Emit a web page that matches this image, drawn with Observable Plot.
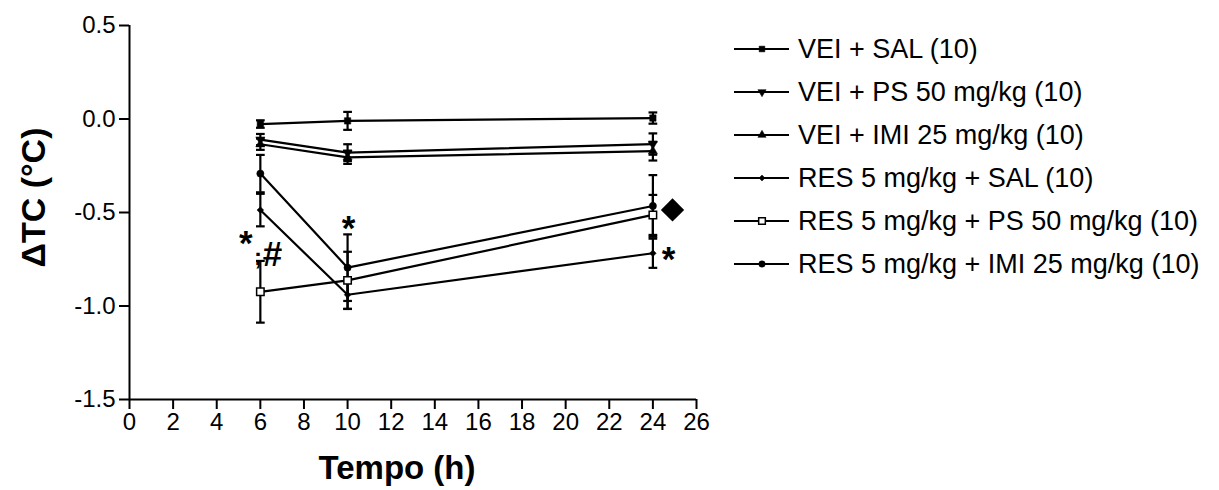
<!DOCTYPE html>
<html>
<head>
<meta charset="utf-8">
<script src="https://cdn.jsdelivr.net/npm/d3@7"></script>
<script src="https://cdn.jsdelivr.net/npm/@observablehq/plot@0.6"></script>
<style>
  html, body { margin: 0; padding: 0; background: #fff; }
  #wrap { position: relative; width: 1219px; height: 490px; font-family: "Liberation Sans", Arial, sans-serif; }
  #chart { position: absolute; left: 0; top: 0; }
  .leg { position: absolute; left: 734px; height: 30px; display: flex; align-items: center; white-space: nowrap; }
  .leg span { font-size: 27px; color: #000; margin-left: 8px; }
</style>
</head>
<body>
<div id="wrap"><div id="chart"></div><div id="legend"></div></div>
<script>
// ---- data ----
const times = [6, 10, 24];
const seriesNames = [
  "VEI + SAL (10)",
  "VEI + PS 50 mg/kg (10)",
  "VEI + IMI 25 mg/kg (10)",
  "RES 5 mg/kg + SAL (10)",
  "RES 5 mg/kg + PS 50 mg/kg (10)",
  "RES 5 mg/kg + IMI 25 mg/kg (10)"
];
const veiSal    = [-0.027, -0.010, 0.005];
const veiSalErr = [0.020, 0.048, 0.030];
const veiPs     = [-0.110, -0.180, -0.134];
const veiPsErr  = [0.030, 0.045, 0.057];
const veiImi    = [-0.135, -0.205, -0.172];
const veiImiErr = [0.030, 0.035, 0.050];
const resSal    = [-0.487, -0.940, -0.718];
const resSalErr = [0.087, 0.075, 0.078];
const resPs     = [-0.924, -0.863, -0.513];
const resPsErr  = [0.165, 0.153, 0.107];
const resImi    = [-0.292, -0.795, -0.465];
const resImiErr = [0.100, 0.178, 0.165];

const xTicks = [0, 2, 4, 6, 8, 10, 12, 14, 16, 18, 20, 22, 24, 26];
const yTicks = [-1.5, -1.0, -0.5, 0.0, 0.5];
const xLabel = "Tempo (h)";
const yLabel = "ΔTC (°C)";

const annoText = ["*", ";", "#", "*", "*"];
const annoX    = [5.33, 5.89, 6.56, 10.05, 24.72];
const annoY    = [-0.617, -0.690, -0.679, -0.540, -0.706];
const markX = [24.9];
const markY = [-0.486];

// ---- build ----
const sqrt3 = Math.sqrt(3);
const triDown = {
  draw(c, size) {
    const y = -Math.sqrt(size / (sqrt3 * 3));
    c.moveTo(0, -y * 2);
    c.lineTo(-sqrt3 * y, y);
    c.lineTo(sqrt3 * y, y);
    c.closePath();
  }
};
const means = [veiSal, veiPs, veiImi, resSal, resPs, resImi];
const errs = [veiSalErr, veiPsErr, veiImiErr, resSalErr, resPsErr, resImiErr];
const styles = [
  {symbol: "square", fill: "black", r: 3.6},
  {symbol: triDown, fill: "black", r: 3.4},
  {symbol: "triangle", fill: "black", r: 3.4},
  {symbol: "diamond2", fill: "black", r: 3.0},
  {symbol: "square", fill: "white", r: 4.2},
  {symbol: "circle", fill: "black", r: 3.6}
];

const rows = [];
seriesNames.forEach((s, i) => times.forEach((t, j) => rows.push({s, i, x: t, y: means[i][j], e: errs[i][j]})));

const capW = 0.2;
const marks = [
  Plot.ruleY([-1.5], {stroke: "black", strokeWidth: 2}),
  Plot.ruleX([0], {stroke: "black", strokeWidth: 2}),
  Plot.axisX({ticks: xTicks, tickSize: 10, tickPadding: 3, fontSize: 24, strokeWidth: 2, label: null, tickFormat: d => String(d)}),
  Plot.axisY({ticks: yTicks, tickSize: 10, tickPadding: 4, fontSize: 24, strokeWidth: 2, label: null, tickFormat: d => d.toFixed(1)}),
  Plot.ruleX(rows, {x: "x", y1: d => d.y - d.e, y2: d => d.y + d.e, stroke: "black", strokeWidth: 2.2}),
  Plot.link(rows, {x1: d => d.x - capW, x2: d => d.x + capW, y1: d => d.y + d.e, y2: d => d.y + d.e, stroke: "black", strokeWidth: 2.2}),
  Plot.link(rows, {x1: d => d.x - capW, x2: d => d.x + capW, y1: d => d.y - d.e, y2: d => d.y - d.e, stroke: "black", strokeWidth: 2.2}),
  Plot.line(rows, {x: "x", y: "y", z: "s", stroke: "black", strokeWidth: 2.2})
];
styles.forEach((st, i) => {
  marks.push(Plot.dot(rows.filter(d => d.i === i), {x: "x", y: "y", symbol: () => st.symbol, r: st.r, fill: st.fill, stroke: "black", strokeWidth: st.fill === "white" ? 1.5 : 0.5}));
});
marks.push(
  Plot.text(annoText.map((t, k) => ({t, x: annoX[k], y: annoY[k]})), {x: "x", y: "y", text: "t", fontSize: d => d.t === ";" ? 24 : 35, fontWeight: "bold", fill: "black", dy: 9}),
  Plot.dot(markX.map((x, k) => ({x, y: markY[k]})), {x: "x", y: "y", symbol: "diamond2", r: 10.5, fill: "black"}),
  Plot.text([yLabel], {frameAnchor: "left", textAnchor: "middle", lineAnchor: "middle", dx: -95, dy: -15, rotate: -90, fontSize: 34, fontWeight: "bold", fill: "black"}),
  Plot.text([xLabel], {frameAnchor: "bottom", textAnchor: "middle", lineAnchor: "middle", dx: -16, dy: 69, fontSize: 33, fontWeight: "bold", fill: "black"})
);

const chart = Plot.plot({
  width: 730,
  height: 490,
  marginLeft: 129,
  marginRight: 34,
  marginTop: 25,
  marginBottom: 91,
  style: {fontFamily: "'Liberation Sans', Arial, sans-serif", color: "black", background: "white", overflow: "visible"},
  x: {domain: [0, 26]},
  y: {domain: [-1.5, 0.5]},
  marks
});
document.getElementById("chart").appendChild(chart);

// ---- legend ----
const legTops = [49, 92, 135, 178, 221, 264];
const symMap = {square: d3.symbolSquare, triangle: d3.symbolTriangle, diamond2: d3.symbolDiamond2, circle: d3.symbolCircle};
const legend = document.getElementById("legend");
seriesNames.forEach((name, i) => {
  const st = styles[i];
  const row = document.createElement("div");
  row.className = "leg";
  row.style.top = (legTops[i] - 15) + "px";
  const svg = d3.create("svg").attr("width", 56).attr("height", 30);
  svg.append("line").attr("x1", 0).attr("x2", 55).attr("y1", 15).attr("y2", 15).attr("stroke", "black").attr("stroke-width", 2);
  const type = typeof st.symbol === "string" ? symMap[st.symbol] : st.symbol;
  svg.append("path").attr("transform", "translate(28,15)")
    .attr("d", d3.symbol(type, Math.PI * st.r * st.r * 0.8)())
    .attr("fill", st.fill).attr("stroke", "black").attr("stroke-width", st.fill === "white" ? 1.5 : 0.5);
  row.appendChild(svg.node());
  const sp = document.createElement("span");
  sp.textContent = name;
  row.appendChild(sp);
  legend.appendChild(row);
});
</script>
</body>
</html>
